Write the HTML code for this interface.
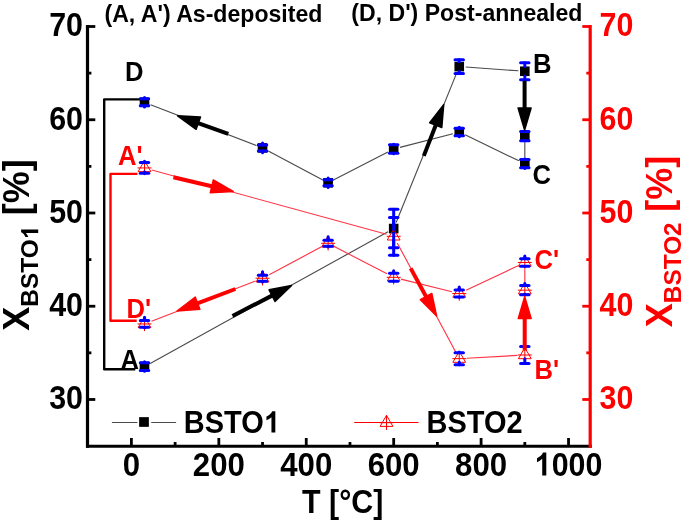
<!DOCTYPE html>
<html><head><meta charset="utf-8"><title>BSTO plot</title><style>html,body{margin:0;padding:0;background:#fff;width:685px;height:522px;overflow:hidden}svg{display:block;will-change:transform;font-family:"Liberation Sans",sans-serif}</style></head><body>
<svg width="685" height="522" viewBox="0 0 685 522">
<rect width="685" height="522" fill="#fff"/>
<line x1="150.58" y1="104.65" x2="256.48" y2="145.56" stroke="#4a4a4a" stroke-width="1.12"/>
<line x1="268.28" y1="150.96" x2="322.37" y2="179.72" stroke="#4a4a4a" stroke-width="1.12"/>
<line x1="333.89" y1="179.8" x2="387.9" y2="152" stroke="#4a4a4a" stroke-width="1.12"/>
<line x1="399.97" y1="147.39" x2="452.95" y2="133.68" stroke="#4a4a4a" stroke-width="1.12"/>
<line x1="465.1" y1="134.87" x2="518.96" y2="160.84" stroke="#4a4a4a" stroke-width="1.12"/>
<line x1="150.2" y1="363.41" x2="387.99" y2="231.71" stroke="#4a4a4a" stroke-width="1.12"/>
<line x1="396.12" y1="222.53" x2="456.81" y2="72.62" stroke="#4a4a4a" stroke-width="1.12"/>
<line x1="465.73" y1="67.06" x2="518.33" y2="70.8" stroke="#4a4a4a" stroke-width="1.12"/>
<line x1="524.82" y1="142.65" x2="524.82" y2="157.16" stroke="#4a4a4a" stroke-width="1.12"/>
<line x1="151.51" y1="321.24" x2="255.54" y2="280.97" stroke="#ff3344" stroke-width="1.12"/>
<line x1="269.16" y1="274.73" x2="321.49" y2="246.82" stroke="#ff3344" stroke-width="1.12"/>
<line x1="334.77" y1="246.75" x2="387.02" y2="273.87" stroke="#ff3344" stroke-width="1.12"/>
<line x1="400.96" y1="279.13" x2="451.97" y2="291.75" stroke="#ff3344" stroke-width="1.12"/>
<line x1="466.03" y1="290.34" x2="518.04" y2="265.71" stroke="#ff3344" stroke-width="1.12"/>
<line x1="151.75" y1="169.94" x2="386.45" y2="234.31" stroke="#ff3344" stroke-width="1.12"/>
<line x1="397.22" y1="242.91" x2="455.7" y2="352.02" stroke="#ff3344" stroke-width="1.12"/>
<line x1="466.74" y1="358.22" x2="517.33" y2="355.41" stroke="#ff3344" stroke-width="1.12"/>
<line x1="524.82" y1="282.69" x2="524.82" y2="270" stroke="#ff3344" stroke-width="1.12"/>
<polyline points="140,99.4 104.2,99.4 104.2,369.3 135.3,369.3" fill="none" stroke="#000" stroke-width="2.4" stroke-linejoin="round"/>
<polyline points="137.4,173.9 110.5,173.9 110.5,320.8 136.7,320.8" fill="none" stroke="#ff0000" stroke-width="2.4" stroke-linejoin="round"/>
<rect x="139.71" y="97.51" width="9.6" height="9.6" fill="#000"/>
<rect x="257.74" y="143.1" width="9.6" height="9.6" fill="#000"/>
<rect x="323.31" y="177.98" width="9.6" height="9.6" fill="#000"/>
<rect x="388.88" y="144.22" width="9.6" height="9.6" fill="#000"/>
<rect x="454.45" y="127.25" width="9.6" height="9.6" fill="#000"/>
<rect x="520.02" y="158.86" width="9.6" height="9.6" fill="#000"/>
<rect x="139.71" y="361.76" width="9.6" height="9.6" fill="#000"/>
<rect x="388.88" y="223.76" width="9.6" height="9.6" fill="#000"/>
<rect x="454.45" y="61.79" width="9.6" height="9.6" fill="#000"/>
<rect x="520.02" y="66.46" width="9.6" height="9.6" fill="#000"/>
<rect x="520.02" y="131.35" width="9.6" height="9.6" fill="#000"/>
<path d="M144.51,316.55 L150.91,327.65 L138.11,327.65 Z M144.51,316.55 L144.51,331.15 M137.51,323.95 L151.51,323.95" fill="none" stroke="#ff0000" stroke-width="1.0"/>
<path d="M262.54,270.86 L268.94,281.96 L256.14,281.96 Z M262.54,270.86 L262.54,285.46 M255.54,278.26 L269.54,278.26" fill="none" stroke="#ff0000" stroke-width="1.0"/>
<path d="M328.11,235.89 L334.51,246.99 L321.71,246.99 Z M328.11,235.89 L328.11,250.49 M321.11,243.29 L335.11,243.29" fill="none" stroke="#ff0000" stroke-width="1.0"/>
<path d="M393.68,269.93 L400.08,281.03 L387.28,281.03 Z M393.68,269.93 L393.68,284.53 M386.68,277.33 L400.68,277.33" fill="none" stroke="#ff0000" stroke-width="1.0"/>
<path d="M459.25,286.15 L465.65,297.25 L452.85,297.25 Z M459.25,286.15 L459.25,300.75 M452.25,293.55 L466.25,293.55" fill="none" stroke="#ff0000" stroke-width="1.0"/>
<path d="M524.82,255.1 L531.22,266.2 L518.42,266.2 Z M524.82,255.1 L524.82,269.7 M517.82,262.5 L531.82,262.5" fill="none" stroke="#ff0000" stroke-width="1.0"/>
<path d="M144.51,160.55 L150.91,171.65 L138.11,171.65 Z M144.51,160.55 L144.51,175.15 M137.51,167.95 L151.51,167.95" fill="none" stroke="#ff0000" stroke-width="1.0"/>
<path d="M393.68,228.9 L400.08,240 L387.28,240 Z M393.68,228.9 L393.68,243.5 M386.68,236.3 L400.68,236.3" fill="none" stroke="#ff0000" stroke-width="1.0"/>
<path d="M459.25,351.24 L465.65,362.34 L452.85,362.34 Z M459.25,351.24 L459.25,365.84 M452.25,358.64 L466.25,358.64" fill="none" stroke="#ff0000" stroke-width="1.0"/>
<path d="M524.82,347.6 L531.22,358.7 L518.42,358.7 Z M524.82,347.6 L524.82,362.2 M517.82,355 L531.82,355" fill="none" stroke="#ff0000" stroke-width="1.0"/>
<path d="M524.82,282.79 L531.22,293.89 L518.42,293.89 Z M524.82,282.79 L524.82,297.39 M517.82,290.19 L531.82,290.19" fill="none" stroke="#ff0000" stroke-width="1.0"/>
<line x1="144.51" y1="97.51" x2="144.51" y2="98.86" stroke="#0000ff" stroke-width="3" stroke-linecap="round"/><line x1="140.31" y1="98.86" x2="148.71" y2="98.86" stroke="#0000ff" stroke-width="3" stroke-linecap="round"/><line x1="144.51" y1="107.11" x2="144.51" y2="105.76" stroke="#0000ff" stroke-width="3" stroke-linecap="round"/><line x1="140.31" y1="105.76" x2="148.71" y2="105.76" stroke="#0000ff" stroke-width="3" stroke-linecap="round"/>
<line x1="262.54" y1="143.1" x2="262.54" y2="144.9" stroke="#0000ff" stroke-width="3" stroke-linecap="round"/><line x1="258.34" y1="144.9" x2="266.74" y2="144.9" stroke="#0000ff" stroke-width="3" stroke-linecap="round"/><line x1="262.54" y1="152.7" x2="262.54" y2="150.9" stroke="#0000ff" stroke-width="3" stroke-linecap="round"/><line x1="258.34" y1="150.9" x2="266.74" y2="150.9" stroke="#0000ff" stroke-width="3" stroke-linecap="round"/>
<line x1="328.11" y1="177.98" x2="328.11" y2="179.78" stroke="#0000ff" stroke-width="3" stroke-linecap="round"/><line x1="323.91" y1="179.78" x2="332.31" y2="179.78" stroke="#0000ff" stroke-width="3" stroke-linecap="round"/><line x1="328.11" y1="187.58" x2="328.11" y2="185.78" stroke="#0000ff" stroke-width="3" stroke-linecap="round"/><line x1="323.91" y1="185.78" x2="332.31" y2="185.78" stroke="#0000ff" stroke-width="3" stroke-linecap="round"/>
<line x1="393.68" y1="144.22" x2="393.68" y2="144.82" stroke="#0000ff" stroke-width="3" stroke-linecap="round"/><line x1="389.48" y1="144.82" x2="397.88" y2="144.82" stroke="#0000ff" stroke-width="3" stroke-linecap="round"/><line x1="393.68" y1="153.82" x2="393.68" y2="153.22" stroke="#0000ff" stroke-width="3" stroke-linecap="round"/><line x1="389.48" y1="153.22" x2="397.88" y2="153.22" stroke="#0000ff" stroke-width="3" stroke-linecap="round"/>
<line x1="459.25" y1="127.25" x2="459.25" y2="128.25" stroke="#0000ff" stroke-width="3" stroke-linecap="round"/><line x1="455.05" y1="128.25" x2="463.45" y2="128.25" stroke="#0000ff" stroke-width="3" stroke-linecap="round"/><line x1="459.25" y1="136.85" x2="459.25" y2="135.85" stroke="#0000ff" stroke-width="3" stroke-linecap="round"/><line x1="455.05" y1="135.85" x2="463.45" y2="135.85" stroke="#0000ff" stroke-width="3" stroke-linecap="round"/>
<line x1="524.82" y1="158.86" x2="524.82" y2="159.46" stroke="#0000ff" stroke-width="3" stroke-linecap="round"/><line x1="520.62" y1="159.46" x2="529.02" y2="159.46" stroke="#0000ff" stroke-width="3" stroke-linecap="round"/><line x1="524.82" y1="168.46" x2="524.82" y2="167.86" stroke="#0000ff" stroke-width="3" stroke-linecap="round"/><line x1="520.62" y1="167.86" x2="529.02" y2="167.86" stroke="#0000ff" stroke-width="3" stroke-linecap="round"/>
<line x1="144.51" y1="361.76" x2="144.51" y2="362.66" stroke="#0000ff" stroke-width="3" stroke-linecap="round"/><line x1="140.31" y1="362.66" x2="148.71" y2="362.66" stroke="#0000ff" stroke-width="3" stroke-linecap="round"/><line x1="144.51" y1="371.36" x2="144.51" y2="370.46" stroke="#0000ff" stroke-width="3" stroke-linecap="round"/><line x1="140.31" y1="370.46" x2="148.71" y2="370.46" stroke="#0000ff" stroke-width="3" stroke-linecap="round"/>
<line x1="393.68" y1="223.76" x2="393.68" y2="209.26" stroke="#0000ff" stroke-width="3" stroke-linecap="round"/><line x1="389.48" y1="209.26" x2="397.88" y2="209.26" stroke="#0000ff" stroke-width="3" stroke-linecap="round"/><line x1="393.68" y1="233.36" x2="393.68" y2="247.86" stroke="#0000ff" stroke-width="3" stroke-linecap="round"/><line x1="389.48" y1="247.86" x2="397.88" y2="247.86" stroke="#0000ff" stroke-width="3" stroke-linecap="round"/>
<line x1="459.25" y1="61.79" x2="459.25" y2="59.69" stroke="#0000ff" stroke-width="3" stroke-linecap="round"/><line x1="455.05" y1="59.69" x2="463.45" y2="59.69" stroke="#0000ff" stroke-width="3" stroke-linecap="round"/><line x1="459.25" y1="71.39" x2="459.25" y2="73.49" stroke="#0000ff" stroke-width="3" stroke-linecap="round"/><line x1="455.05" y1="73.49" x2="463.45" y2="73.49" stroke="#0000ff" stroke-width="3" stroke-linecap="round"/>
<line x1="524.82" y1="66.46" x2="524.82" y2="62.66" stroke="#0000ff" stroke-width="3" stroke-linecap="round"/><line x1="520.62" y1="62.66" x2="529.02" y2="62.66" stroke="#0000ff" stroke-width="3" stroke-linecap="round"/><line x1="524.82" y1="76.06" x2="524.82" y2="79.86" stroke="#0000ff" stroke-width="3" stroke-linecap="round"/><line x1="520.62" y1="79.86" x2="529.02" y2="79.86" stroke="#0000ff" stroke-width="3" stroke-linecap="round"/>
<line x1="524.82" y1="131.35" x2="524.82" y2="131.55" stroke="#0000ff" stroke-width="3" stroke-linecap="round"/><line x1="520.62" y1="131.55" x2="529.02" y2="131.55" stroke="#0000ff" stroke-width="3" stroke-linecap="round"/><line x1="524.82" y1="140.95" x2="524.82" y2="140.75" stroke="#0000ff" stroke-width="3" stroke-linecap="round"/><line x1="520.62" y1="140.75" x2="529.02" y2="140.75" stroke="#0000ff" stroke-width="3" stroke-linecap="round"/>
<line x1="144.51" y1="317.35" x2="144.51" y2="320.55" stroke="#0000ff" stroke-width="3" stroke-linecap="round"/><line x1="140.31" y1="320.55" x2="148.71" y2="320.55" stroke="#0000ff" stroke-width="3" stroke-linecap="round"/><line x1="144.51" y1="327.65" x2="144.51" y2="327.35" stroke="#0000ff" stroke-width="3" stroke-linecap="round"/><line x1="140.31" y1="327.35" x2="148.71" y2="327.35" stroke="#0000ff" stroke-width="3" stroke-linecap="round"/>
<line x1="262.54" y1="271.66" x2="262.54" y2="275.36" stroke="#0000ff" stroke-width="3" stroke-linecap="round"/><line x1="258.34" y1="275.36" x2="266.74" y2="275.36" stroke="#0000ff" stroke-width="3" stroke-linecap="round"/><line x1="262.54" y1="281.96" x2="262.54" y2="281.16" stroke="#0000ff" stroke-width="3" stroke-linecap="round"/><line x1="258.34" y1="281.16" x2="266.74" y2="281.16" stroke="#0000ff" stroke-width="3" stroke-linecap="round"/>
<line x1="328.11" y1="236.69" x2="328.11" y2="240.29" stroke="#0000ff" stroke-width="3" stroke-linecap="round"/><line x1="323.91" y1="240.29" x2="332.31" y2="240.29" stroke="#0000ff" stroke-width="3" stroke-linecap="round"/><line x1="328.11" y1="246.99" x2="328.11" y2="246.29" stroke="#0000ff" stroke-width="3" stroke-linecap="round"/><line x1="323.91" y1="246.29" x2="332.31" y2="246.29" stroke="#0000ff" stroke-width="3" stroke-linecap="round"/>
<line x1="393.68" y1="270.73" x2="393.68" y2="273.33" stroke="#0000ff" stroke-width="3" stroke-linecap="round"/><line x1="389.48" y1="273.33" x2="397.88" y2="273.33" stroke="#0000ff" stroke-width="3" stroke-linecap="round"/><line x1="393.68" y1="281.03" x2="393.68" y2="281.33" stroke="#0000ff" stroke-width="3" stroke-linecap="round"/><line x1="389.48" y1="281.33" x2="397.88" y2="281.33" stroke="#0000ff" stroke-width="3" stroke-linecap="round"/>
<line x1="459.25" y1="286.95" x2="459.25" y2="290.05" stroke="#0000ff" stroke-width="3" stroke-linecap="round"/><line x1="455.05" y1="290.05" x2="463.45" y2="290.05" stroke="#0000ff" stroke-width="3" stroke-linecap="round"/><line x1="459.25" y1="297.25" x2="459.25" y2="297.05" stroke="#0000ff" stroke-width="3" stroke-linecap="round"/><line x1="455.05" y1="297.05" x2="463.45" y2="297.05" stroke="#0000ff" stroke-width="3" stroke-linecap="round"/>
<line x1="524.82" y1="255.9" x2="524.82" y2="258.75" stroke="#0000ff" stroke-width="3" stroke-linecap="round"/><line x1="520.62" y1="258.75" x2="529.02" y2="258.75" stroke="#0000ff" stroke-width="3" stroke-linecap="round"/><line x1="524.82" y1="266.2" x2="524.82" y2="266.25" stroke="#0000ff" stroke-width="3" stroke-linecap="round"/><line x1="520.62" y1="266.25" x2="529.02" y2="266.25" stroke="#0000ff" stroke-width="3" stroke-linecap="round"/>
<line x1="144.51" y1="161.35" x2="144.51" y2="162.55" stroke="#0000ff" stroke-width="3" stroke-linecap="round"/><line x1="140.31" y1="162.55" x2="148.71" y2="162.55" stroke="#0000ff" stroke-width="3" stroke-linecap="round"/><line x1="144.51" y1="171.65" x2="144.51" y2="173.35" stroke="#0000ff" stroke-width="3" stroke-linecap="round"/><line x1="140.31" y1="173.35" x2="148.71" y2="173.35" stroke="#0000ff" stroke-width="3" stroke-linecap="round"/>
<line x1="393.68" y1="229.7" x2="393.68" y2="217.4" stroke="#0000ff" stroke-width="3" stroke-linecap="round"/><line x1="389.48" y1="217.4" x2="397.88" y2="217.4" stroke="#0000ff" stroke-width="3" stroke-linecap="round"/><line x1="393.68" y1="240" x2="393.68" y2="255.2" stroke="#0000ff" stroke-width="3" stroke-linecap="round"/><line x1="389.48" y1="255.2" x2="397.88" y2="255.2" stroke="#0000ff" stroke-width="3" stroke-linecap="round"/>
<line x1="459.25" y1="352.04" x2="459.25" y2="352.64" stroke="#0000ff" stroke-width="3" stroke-linecap="round"/><line x1="455.05" y1="352.64" x2="463.45" y2="352.64" stroke="#0000ff" stroke-width="3" stroke-linecap="round"/><line x1="459.25" y1="362.34" x2="459.25" y2="364.64" stroke="#0000ff" stroke-width="3" stroke-linecap="round"/><line x1="455.05" y1="364.64" x2="463.45" y2="364.64" stroke="#0000ff" stroke-width="3" stroke-linecap="round"/>
<line x1="524.82" y1="348.4" x2="524.82" y2="346.4" stroke="#0000ff" stroke-width="3" stroke-linecap="round"/><line x1="520.62" y1="346.4" x2="529.02" y2="346.4" stroke="#0000ff" stroke-width="3" stroke-linecap="round"/><line x1="524.82" y1="358.7" x2="524.82" y2="363.6" stroke="#0000ff" stroke-width="3" stroke-linecap="round"/><line x1="520.62" y1="363.6" x2="529.02" y2="363.6" stroke="#0000ff" stroke-width="3" stroke-linecap="round"/>
<line x1="524.82" y1="283.59" x2="524.82" y2="285.59" stroke="#0000ff" stroke-width="3" stroke-linecap="round"/><line x1="520.62" y1="285.59" x2="529.02" y2="285.59" stroke="#0000ff" stroke-width="3" stroke-linecap="round"/><line x1="524.82" y1="293.89" x2="524.82" y2="294.79" stroke="#0000ff" stroke-width="3" stroke-linecap="round"/><line x1="520.62" y1="294.79" x2="529.02" y2="294.79" stroke="#0000ff" stroke-width="3" stroke-linecap="round"/>
<line x1="228.3" y1="133.9" x2="197.38" y2="122.86" stroke="#000" stroke-width="4.0"/><polygon points="177.6,115.8 200.5,117.08 196.13,129.32" fill="#000" stroke="#000" stroke-width="1.5" stroke-linejoin="round"/>
<line x1="232.5" y1="316" x2="272.94" y2="295.13" stroke="#000" stroke-width="4.0"/><polygon points="291.6,285.5 275.03,301.37 269.07,289.81" fill="#000" stroke="#000" stroke-width="1.5" stroke-linejoin="round"/>
<line x1="423.8" y1="155.9" x2="436.11" y2="124.18" stroke="#000" stroke-width="4.0"/><polygon points="443.7,104.6 441.8,127.46 429.68,122.76" fill="#000" stroke="#000" stroke-width="1.5" stroke-linejoin="round"/>
<line x1="524.6" y1="80.7" x2="524.6" y2="109" stroke="#000" stroke-width="4.0"/><polygon points="524.6,130 518.1,108 531.1,108" fill="#000" stroke="#000" stroke-width="1.5" stroke-linejoin="round"/>
<line x1="173.4" y1="177.2" x2="212.77" y2="186.55" stroke="#ff0000" stroke-width="4.0"/><polygon points="233.2,191.4 210.29,192.64 213.3,179.99" fill="#ff0000" stroke="#ff0000" stroke-width="1.5" stroke-linejoin="round"/>
<line x1="410.7" y1="268.4" x2="426.55" y2="297.46" stroke="#ff0000" stroke-width="4.0"/><polygon points="436.6,315.9 420.36,299.7 431.77,293.47" fill="#ff0000" stroke="#ff0000" stroke-width="1.5" stroke-linejoin="round"/>
<line x1="235.4" y1="289" x2="196.65" y2="303.6" stroke="#ff0000" stroke-width="4.0"/><polygon points="177,311 195.3,297.16 199.88,309.33" fill="#ff0000" stroke="#ff0000" stroke-width="1.5" stroke-linejoin="round"/>
<line x1="524.7" y1="350.5" x2="524.7" y2="317.6" stroke="#ff0000" stroke-width="4.0"/><polygon points="524.7,296.6 531.2,318.6 518.2,318.6" fill="#ff0000" stroke="#ff0000" stroke-width="1.5" stroke-linejoin="round"/>
<line x1="87.5" y1="25.1" x2="87.5" y2="447.8" stroke="#000" stroke-width="3.2"/>
<line x1="86" y1="446.3" x2="591.8" y2="446.3" stroke="#000" stroke-width="3"/>
<line x1="590.2" y1="25.1" x2="590.2" y2="447.8" stroke="#ff0000" stroke-width="3.2"/>
<line x1="87.5" y1="399.48" x2="95.3" y2="399.48" stroke="#000" stroke-width="2.8"/>
<line x1="582.3" y1="399.48" x2="590.2" y2="399.48" stroke="#ff0000" stroke-width="2.8"/>
<line x1="87.5" y1="306.23" x2="95.3" y2="306.23" stroke="#000" stroke-width="2.8"/>
<line x1="582.3" y1="306.23" x2="590.2" y2="306.23" stroke="#ff0000" stroke-width="2.8"/>
<line x1="87.5" y1="212.99" x2="95.3" y2="212.99" stroke="#000" stroke-width="2.8"/>
<line x1="582.3" y1="212.99" x2="590.2" y2="212.99" stroke="#ff0000" stroke-width="2.8"/>
<line x1="87.5" y1="119.74" x2="95.3" y2="119.74" stroke="#000" stroke-width="2.8"/>
<line x1="582.3" y1="119.74" x2="590.2" y2="119.74" stroke="#ff0000" stroke-width="2.8"/>
<line x1="87.5" y1="26.5" x2="95.3" y2="26.5" stroke="#000" stroke-width="2.8"/>
<line x1="582.3" y1="26.5" x2="590.2" y2="26.5" stroke="#ff0000" stroke-width="2.8"/>
<line x1="87.5" y1="352.85" x2="91.4" y2="352.85" stroke="#000" stroke-width="2.8"/>
<line x1="586.3" y1="352.85" x2="590.2" y2="352.85" stroke="#ff0000" stroke-width="2.8"/>
<line x1="87.5" y1="259.61" x2="91.4" y2="259.61" stroke="#000" stroke-width="2.8"/>
<line x1="586.3" y1="259.61" x2="590.2" y2="259.61" stroke="#ff0000" stroke-width="2.8"/>
<line x1="87.5" y1="166.37" x2="91.4" y2="166.37" stroke="#000" stroke-width="2.8"/>
<line x1="586.3" y1="166.37" x2="590.2" y2="166.37" stroke="#ff0000" stroke-width="2.8"/>
<line x1="87.5" y1="73.12" x2="91.4" y2="73.12" stroke="#000" stroke-width="2.8"/>
<line x1="586.3" y1="73.12" x2="590.2" y2="73.12" stroke="#ff0000" stroke-width="2.8"/>
<line x1="131.4" y1="446.3" x2="131.4" y2="438" stroke="#000" stroke-width="2.8"/>
<line x1="218.83" y1="446.3" x2="218.83" y2="438" stroke="#000" stroke-width="2.8"/>
<line x1="306.25" y1="446.3" x2="306.25" y2="438" stroke="#000" stroke-width="2.8"/>
<line x1="393.68" y1="446.3" x2="393.68" y2="438" stroke="#000" stroke-width="2.8"/>
<line x1="481.1" y1="446.3" x2="481.1" y2="438" stroke="#000" stroke-width="2.8"/>
<line x1="568.53" y1="446.3" x2="568.53" y2="438" stroke="#000" stroke-width="2.8"/>
<line x1="175.11" y1="446.3" x2="175.11" y2="442" stroke="#000" stroke-width="2.8"/>
<line x1="262.54" y1="446.3" x2="262.54" y2="442" stroke="#000" stroke-width="2.8"/>
<line x1="349.97" y1="446.3" x2="349.97" y2="442" stroke="#000" stroke-width="2.8"/>
<line x1="437.39" y1="446.3" x2="437.39" y2="442" stroke="#000" stroke-width="2.8"/>
<line x1="524.82" y1="446.3" x2="524.82" y2="442" stroke="#000" stroke-width="2.8"/>
<text transform="translate(83,409.28) scale(0.921,1)" font-family="Liberation Sans" font-weight="bold" font-size="33" fill="#000" text-anchor="end" >30</text>
<text transform="translate(599.5,409.28) scale(0.921,1)" font-family="Liberation Sans" font-weight="bold" font-size="33" fill="#ff0000" text-anchor="start" >30</text>
<text transform="translate(83,316.03) scale(0.921,1)" font-family="Liberation Sans" font-weight="bold" font-size="33" fill="#000" text-anchor="end" >40</text>
<text transform="translate(599.5,316.03) scale(0.921,1)" font-family="Liberation Sans" font-weight="bold" font-size="33" fill="#ff0000" text-anchor="start" >40</text>
<text transform="translate(83,222.79) scale(0.921,1)" font-family="Liberation Sans" font-weight="bold" font-size="33" fill="#000" text-anchor="end" >50</text>
<text transform="translate(599.5,222.79) scale(0.921,1)" font-family="Liberation Sans" font-weight="bold" font-size="33" fill="#ff0000" text-anchor="start" >50</text>
<text transform="translate(83,129.54) scale(0.921,1)" font-family="Liberation Sans" font-weight="bold" font-size="33" fill="#000" text-anchor="end" >60</text>
<text transform="translate(599.5,129.54) scale(0.921,1)" font-family="Liberation Sans" font-weight="bold" font-size="33" fill="#ff0000" text-anchor="start" >60</text>
<text transform="translate(83,36.3) scale(0.921,1)" font-family="Liberation Sans" font-weight="bold" font-size="33" fill="#000" text-anchor="end" >70</text>
<text transform="translate(599.5,36.3) scale(0.921,1)" font-family="Liberation Sans" font-weight="bold" font-size="33" fill="#ff0000" text-anchor="start" >70</text>
<text transform="translate(131.4,475.5) scale(0.945,1)" font-family="Liberation Sans" font-weight="bold" font-size="33" fill="#000" text-anchor="middle" >0</text>
<text transform="translate(218.83,475.5) scale(0.945,1)" font-family="Liberation Sans" font-weight="bold" font-size="33" fill="#000" text-anchor="middle" >200</text>
<text transform="translate(306.25,475.5) scale(0.945,1)" font-family="Liberation Sans" font-weight="bold" font-size="33" fill="#000" text-anchor="middle" >400</text>
<text transform="translate(393.68,475.5) scale(0.945,1)" font-family="Liberation Sans" font-weight="bold" font-size="33" fill="#000" text-anchor="middle" >600</text>
<text transform="translate(481.1,475.5) scale(0.945,1)" font-family="Liberation Sans" font-weight="bold" font-size="33" fill="#000" text-anchor="middle" >800</text>
<path transform="translate(534.72,475.5) scale(0.014840,-0.016113)" d="M780,0 L506,0 L506,1032 Q356,892 152,825 L152,1073 Q259,1108 385,1206 Q511,1304 558,1435 L780,1435 Z" fill="#000"/><text transform="translate(551.63,475.5) scale(0.921,1)" font-family="Liberation Sans" font-weight="bold" font-size="33" fill="#000" text-anchor="start" >000</text>
<text transform="translate(302,512.6) scale(0.921,1)" font-family="Liberation Sans" font-weight="bold" font-size="33" fill="#000" text-anchor="start" >T [°C]</text>
<g transform="translate(29,330.7) rotate(-90)"><text x="0" y="0" font-family="Liberation Sans" font-weight="bold" fill="#000" font-size="36">X</text><text transform="translate(24.01,9.2) scale(1.0,1)" font-family="Liberation Sans" font-weight="bold" font-size="24.4" fill="#000" text-anchor="start" >BSTO</text><path transform="translate(91.79,9.2) scale(0.011914,-0.011914)" d="M780,0 L506,0 L506,1032 Q356,892 152,825 L152,1073 Q259,1108 385,1206 Q511,1304 558,1435 L780,1435 Z" fill="#000"/><text x="105.36" y="0" font-family="Liberation Sans" font-weight="bold" fill="#000" font-size="36" xml:space="preserve"> [%]</text></g>
<g transform="translate(672,327.2) rotate(-90)"><text x="0" y="0" font-family="Liberation Sans" font-weight="bold" fill="#ff0000" font-size="36">X</text><text transform="translate(24.01,9.2) scale(1.0,1)" font-family="Liberation Sans" font-weight="bold" font-size="24.4" fill="#ff0000" text-anchor="start" >BSTO2</text><text x="105.36" y="0" font-family="Liberation Sans" font-weight="bold" fill="#ff0000" font-size="36" xml:space="preserve"> [%]</text></g>
<text transform="translate(104.5,22) scale(0.95,1)" font-family="Liberation Sans" font-weight="bold" font-size="24.3" fill="#000" text-anchor="start" >(A, A') As-deposited</text>
<text transform="translate(351.3,21) scale(0.95,1)" font-family="Liberation Sans" font-weight="bold" font-size="24.3" fill="#000" text-anchor="start" >(D, D') Post-annealed</text>
<text transform="translate(125,81) scale(0.95,1)" font-family="Liberation Sans" font-weight="bold" font-size="27" fill="#000" text-anchor="start" >D</text>
<text transform="translate(120.6,369.2) scale(0.95,1)" font-family="Liberation Sans" font-weight="bold" font-size="27" fill="#000" text-anchor="start" >A</text>
<text transform="translate(533,72.8) scale(0.95,1)" font-family="Liberation Sans" font-weight="bold" font-size="27" fill="#000" text-anchor="start" >B</text>
<text transform="translate(532.6,184.3) scale(0.95,1)" font-family="Liberation Sans" font-weight="bold" font-size="27" fill="#000" text-anchor="start" >C</text>
<text transform="translate(118,164.8) scale(0.95,1)" font-family="Liberation Sans" font-weight="bold" font-size="27" fill="#ff0000" text-anchor="start" >A'</text>
<text transform="translate(126.4,317.8) scale(0.95,1)" font-family="Liberation Sans" font-weight="bold" font-size="27" fill="#ff0000" text-anchor="start" >D'</text>
<text transform="translate(534.6,379.4) scale(0.95,1)" font-family="Liberation Sans" font-weight="bold" font-size="27" fill="#ff0000" text-anchor="start" >B'</text>
<text transform="translate(534.5,269.3) scale(0.95,1)" font-family="Liberation Sans" font-weight="bold" font-size="27" fill="#ff0000" text-anchor="start" >C'</text>
<line x1="111.9" y1="422.5" x2="137.4" y2="422.5" stroke="#4a4a4a" stroke-width="1.05"/>
<line x1="151.2" y1="422.5" x2="176.1" y2="422.5" stroke="#4a4a4a" stroke-width="1.05"/>
<rect x="139.15" y="417.15" width="9.7" height="9.7" fill="#000"/>
<line x1="354.2" y1="422.5" x2="418.5" y2="422.5" stroke="#ff0000" stroke-width="1.1"/>
<path d="M386.5,415.3 L392.9,426.4 L380.1,426.4 Z M386.5,415.3 L386.5,429.9 M379.5,422.7 L393.5,422.7" fill="none" stroke="#ff0000" stroke-width="1.0"/>
<text transform="translate(183.8,432.5) scale(0.95,1)" font-family="Liberation Sans" font-weight="bold" font-size="30.5" fill="#000" text-anchor="start" >BSTO</text><path transform="translate(264.29,432.5) scale(0.014148,-0.014893)" d="M780,0 L506,0 L506,1032 Q356,892 152,825 L152,1073 Q259,1108 385,1206 Q511,1304 558,1435 L780,1435 Z" fill="#000"/>
<text transform="translate(426.6,432.5) scale(0.95,1)" font-family="Liberation Sans" font-weight="bold" font-size="30.5" fill="#000" text-anchor="start" >BSTO2</text>
</svg>
</body></html>
